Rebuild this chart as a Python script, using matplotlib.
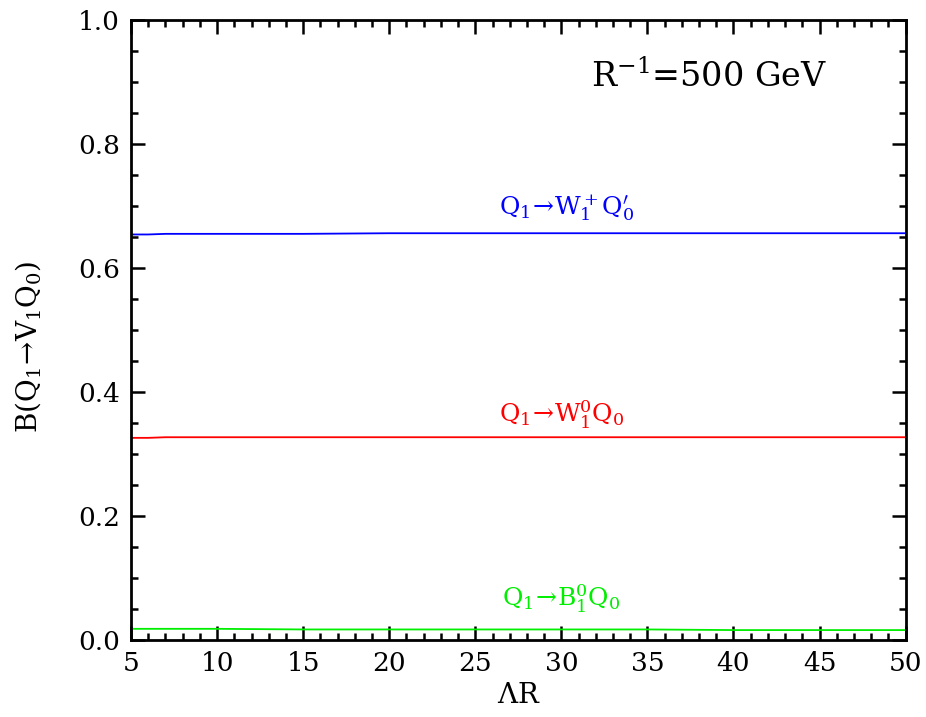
import matplotlib
matplotlib.use('Agg')
import matplotlib.pyplot as plt
from matplotlib.ticker import MultipleLocator

# Lambda*R values and branching ratios
lam_r = [5, 6, 7, 10, 15, 20, 25, 30, 35, 40, 45, 50]
br_w_plus = [0.654, 0.654, 0.655, 0.655, 0.655, 0.656, 0.656, 0.656, 0.656, 0.656, 0.656, 0.656]
br_w_zero = [0.326, 0.326, 0.327, 0.327, 0.327, 0.327, 0.327, 0.327, 0.327, 0.327, 0.327, 0.327]
br_b_zero = [0.018, 0.018, 0.018, 0.018, 0.017, 0.017, 0.017, 0.017, 0.017, 0.016, 0.016, 0.016]

labels = [r'$\mathrm{Q_1\!\rightarrow\! W_1^+ Q_0^\prime}$',
          r'$\mathrm{Q_1\!\rightarrow\! W_1^0 Q_0}$',
          r'$\mathrm{Q_1\!\rightarrow\! B_1^0 Q_0}$']
label_pos = [(30.3, 0.697), (30.0, 0.363), (30.0, 0.066)]
colors = ['#0000ff', '#ff0000', '#00ee00']

plt.rcParams['font.family'] = 'DejaVu Serif'
plt.rcParams['mathtext.fontset'] = 'dejavuserif'

fig = plt.figure(figsize=(9.26, 7.17), dpi=100)
ax = fig.add_axes([0.1415, 0.1074, 0.8365, 0.8648])

for ys, c in zip([br_w_plus, br_w_zero, br_b_zero], colors):
    ax.plot(lam_r, ys, color=c, lw=1.3)

for (lx, ly), txt, c in zip(label_pos, labels, colors):
    ax.text(lx, ly, txt, color=c, fontsize=18, ha='center', va='center')

ax.text(38.6, 0.908, r'$\mathrm{R^{-1}}$=500 GeV', fontsize=24, ha='center', va='center')

ax.set_xlim(5, 50)
ax.set_ylim(0, 1.0)
ax.xaxis.set_major_locator(MultipleLocator(5))
ax.xaxis.set_minor_locator(MultipleLocator(1))
ax.yaxis.set_major_locator(MultipleLocator(0.2))
ax.yaxis.set_minor_locator(MultipleLocator(0.05))
ax.yaxis.set_major_formatter(matplotlib.ticker.FormatStrFormatter('%.1f'))

ax.tick_params(which='both', direction='in', top=True, right=True, width=1.8)
ax.tick_params(which='major', length=10, labelsize=19, pad=8)
ax.tick_params(which='minor', length=5)
for s in ax.spines.values():
    s.set_linewidth(2)

ax.set_xlabel(r'$\Lambda$R', fontsize=20, labelpad=4)
ax.set_ylabel(r'B($\mathrm{Q_1\!\rightarrow\! V_1 Q_0}$)', fontsize=20)
ax.yaxis.set_label_coords(-0.113, 0.473)

fig.savefig('out.png', dpi=100)
